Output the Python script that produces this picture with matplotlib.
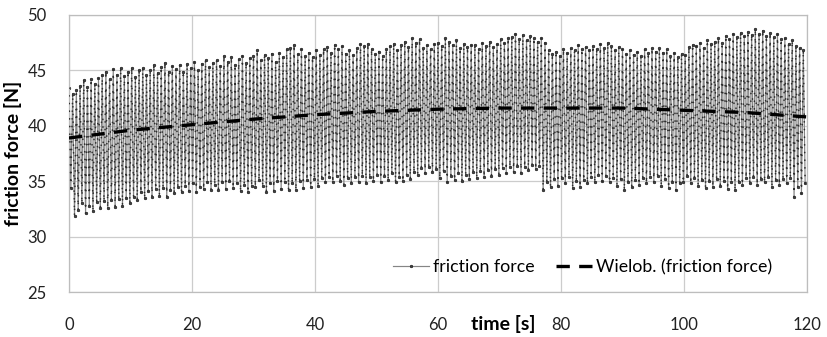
import matplotlib
matplotlib.use("Agg")
import matplotlib.pyplot as plt
import numpy as np

plt.rcParams['font.family'] = ['Lato', 'DejaVu Sans']

# ==========================================================
# DATA (one peak and one trough per cycle, ~0.6 s period)
# ==========================================================
cycle_period = 0.6

peaks = [
    43.4, 42.9, 43.2, 43.6, 44.1, 43.5, 44.2, 43.8, 44.3, 44.6,
    44.9, 44.2, 45.1, 44.6, 45.2, 44.5, 44.9, 45.2, 44.4, 45.0,
    45.2, 44.6, 45.0, 45.5, 44.8, 45.3, 45.7, 44.9, 45.4, 45.1,
    45.5, 44.9, 45.6, 45.2, 45.8, 45.0, 45.6, 45.9, 45.3, 45.7,
    45.9, 45.4, 46.3, 45.8, 46.2, 45.5, 46.0, 46.3, 45.7, 46.1,
    46.3, 46.8, 45.9, 46.4, 46.1, 46.5, 45.8, 46.6, 46.2, 46.9,
    47.0, 47.3, 46.5, 46.9, 46.3, 46.6, 46.2, 46.8, 46.4, 46.9,
    47.1, 46.6, 47.3, 46.9, 47.2, 46.5, 46.8, 46.4, 47.0, 47.4,
    47.2, 47.4, 46.9, 46.5, 46.7, 46.3, 46.9, 47.2, 47.4, 46.8,
    47.3, 47.6, 47.1, 47.9, 47.5, 47.8, 47.0, 47.3, 46.9, 47.4,
    47.5, 47.2, 47.9, 47.6, 47.3, 47.7, 47.0, 47.4, 47.1, 47.3,
    47.3, 46.9, 47.5, 47.2, 47.6, 47.1, 47.4, 47.8, 47.5, 47.9,
    48.0, 48.3, 47.8, 48.2, 47.7, 48.1, 47.9, 47.6, 47.9, 47.5,
    46.8, 46.5, 46.7, 46.3, 46.9, 46.6, 47.0, 46.8, 47.3, 46.9,
    47.1, 46.8, 47.2, 46.9, 47.4, 47.0, 47.5, 47.2, 46.8, 47.1,
    46.9, 46.5, 46.8, 46.4, 46.7, 46.3, 46.9, 46.6, 47.0, 46.7,
    47.0, 46.6, 46.9, 46.3, 46.6, 46.2, 46.5, 46.4, 47.1, 47.3,
    47.2, 47.5, 47.0, 47.7, 47.4, 47.6, 47.9, 47.5, 48.1, 47.8,
    48.3, 48.0, 48.4, 48.1, 48.5, 48.2, 48.7, 48.3, 48.6, 48.1,
    48.4, 48.0, 48.3, 47.8, 47.9, 47.4, 47.7, 47.2, 47.0, 46.8,
]

troughs = [
    34.4, 31.9, 32.4, 33.0, 32.1, 32.8, 32.3, 33.1, 32.6, 33.2,
    32.6, 33.3, 32.7, 33.4, 32.8, 33.5, 33.0, 33.6, 33.3, 34.0,
    33.5, 34.1, 33.6, 34.3, 33.7, 34.4, 33.6, 34.2, 33.9, 34.5,
    34.0, 34.6, 34.1, 34.8, 34.0, 34.5, 34.3, 34.9, 34.2, 34.7,
    34.2, 34.9, 34.3, 35.0, 34.4, 34.8, 34.1, 34.7, 34.0, 34.6,
    34.5, 35.1, 34.6, 34.0, 34.8, 34.1, 35.0, 34.3, 34.9, 34.2,
    34.8, 34.2, 35.0, 34.4, 35.1, 34.5, 35.2, 34.6, 35.3, 34.9,
    35.4, 34.9, 35.5, 35.0, 34.7, 35.3, 34.8, 35.4, 34.9, 35.5,
    34.8, 35.4, 35.0, 35.6, 34.9, 35.5, 35.1, 35.7, 34.9, 35.4,
    35.0, 35.6, 35.2, 35.8, 35.6, 36.2, 35.7, 36.3, 35.8, 36.1,
    35.3, 35.9, 34.9, 35.5, 35.1, 35.7, 35.0, 35.6, 35.2, 35.8,
    35.3, 35.9, 35.4, 36.0, 35.5, 36.1, 35.6, 36.2, 35.7, 36.3,
    35.8, 36.4, 35.7, 36.3, 36.0, 36.5, 36.1, 36.4, 34.2, 34.9,
    34.5, 35.2, 34.6, 35.3, 34.8, 35.4, 34.4, 35.0, 34.5, 35.1,
    34.8, 35.4, 34.9, 35.6, 35.0, 35.5, 34.9, 35.3, 34.6, 35.2,
    34.2, 34.9, 34.5, 35.1, 34.7, 35.3, 34.8, 35.4, 34.9, 35.5,
    34.6, 35.2, 34.4, 34.9, 34.2, 34.8, 34.9, 35.5, 34.8, 35.3,
    34.6, 35.1, 34.4, 35.0, 34.5, 35.2, 34.6, 35.0, 34.3, 34.9,
    34.2, 34.9, 34.7, 35.3, 34.8, 35.4, 34.7, 35.2, 34.9, 35.4,
    34.5, 35.1, 34.7, 35.2, 34.8, 35.3, 33.6, 34.5, 33.9, 34.8,
]

# polynomial trend ("Wielob.") read at every 10 s
trend_t = [0, 10, 20, 30, 40, 50, 60, 70, 80, 90, 100, 110, 120]
trend_f = [38.9, 39.6, 40.1, 40.6, 41.0, 41.3, 41.5, 41.6, 41.6, 41.6, 41.4, 41.2, 40.8]

# ==========================================================
# build the zig-zag sample sequence: peak, trough, peak, ...
# ==========================================================
n = len(peaks)
t_peak = np.arange(n) * cycle_period
t = np.empty(2 * n)
f = np.empty(2 * n)
t[0::2] = t_peak
t[1::2] = t_peak + cycle_period / 2
f[0::2] = peaks
f[1::2] = troughs

fig = plt.figure(figsize=(8.27, 3.37), dpi=100)
ax = fig.add_axes([0.0834, 0.1335, 0.8924, 0.822])

ax.plot(t, f, color='#858585', linewidth=0.85, marker='o', markersize=1.8,
        markerfacecolor='#444444', markeredgecolor='#1a1a1a', markeredgewidth=0.5,
        label='friction force', zorder=2)
# sample points along the strokes
ax.plot(t, f, color='#2e2e2e', linewidth=1.2, linestyle=(0, (0.1, 4.5)),
        dash_capstyle='round', zorder=3)

ax.plot(trend_t, trend_f, color='black', linewidth=2.4, linestyle=(0, (4, 2.8)),
        label='Wielob. (friction force)', zorder=4)

ax.set_xlim(0, 120)
ax.set_ylim(25, 50)
ax.set_xticks(range(0, 121, 20))
ax.set_yticks(range(25, 51, 5))
ax.grid(True, color='#cccccc', linewidth=0.9)
ax.set_axisbelow(True)
for s in ax.spines.values():
    s.set_color('#bdbdbd')
    s.set_linewidth(0.9)
ax.tick_params(length=0, labelsize=12, colors='#222222')
ax.tick_params(axis='x', pad=18)
ax.tick_params(axis='y', pad=16)

ax.set_ylabel('friction force [N]', fontsize=14, fontweight='bold')
ax.yaxis.set_label_coords(-0.064, 0.5)
ax.set_xlabel('time [s]', fontsize=14, fontweight='bold', va='center')
ax.xaxis.set_label_coords(0.588, -0.115)

leg = ax.legend(loc='center right', bbox_to_anchor=(0.975, 0.09), ncol=2,
                frameon=False, fontsize=12.8, handlelength=2.0, columnspacing=1.2,
                handletextpad=0.25, numpoints=1)

fig.savefig('out.png', dpi=100)
